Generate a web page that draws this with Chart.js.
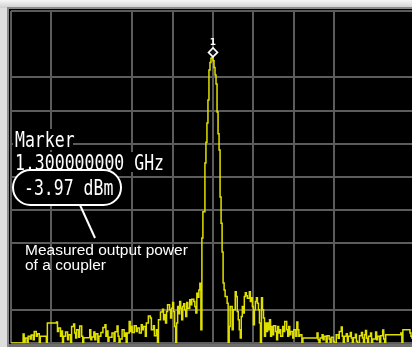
<!DOCTYPE html>
<html>
<head>
<meta charset="utf-8">
<script src="https://cdn.jsdelivr.net/npm/chart.js@4.4.1/dist/chart.umd.min.js"></script>
<style>
  html, body { margin: 0; padding: 0; overflow: hidden; background: #dcdcdc; }
  canvas { display: block; }
</style>
</head>
<body>
<canvas id="spectrum" width="416" height="347"></canvas>
<script>
// sweep: 401 trace points, reference level +10 dBm, 10 dB/div
const tracePoints = [
  0, 12, 13, 14, 16, 17, 19, 20, 22, 23, 25, 26, 28, 29, 35, 36, 45, 46, 47, 49, 50,
  51, 52, 54, 56, 57, 59, 60, 62, 63, 64, 65, 67, 68, 70, 71, 72, 78, 79, 80, 82, 83, 84, 86, 87, 89, 91, 93, 94, 95, 96, 97, 100,
  102, 103, 105, 106, 107, 108, 110, 112, 113, 114, 115, 117, 118, 119, 120, 122, 124, 125, 127, 129, 130, 131, 133, 134, 136, 138, 139, 141, 142, 144, 145, 146, 148, 150,
  151, 152, 153, 154, 155, 157, 158, 159, 160, 161, 162, 163, 164, 165, 166, 167, 168, 169, 170, 171, 172, 173, 174, 175, 177, 178, 179, 181, 182, 183, 184, 185, 186, 187, 188, 189,
  190, 192, 193, 194, 195, 196, 197, 198, 199, 200, 201, 202, 203, 204, 205, 206, 207, 208, 209, 210, 211, 212,
  214, 215, 216, 217, 219, 220, 222, 223, 224, 225, 226, 227, 228, 229, 230, 231, 232, 233, 234, 236, 237, 238, 239, 240, 241, 242, 243, 244, 245, 246, 247, 248, 249, 250,
  251, 252, 253, 254, 255, 256, 257, 258, 259, 260, 262, 263, 264, 265, 266, 267, 269, 270, 271, 273, 274, 275, 276, 277, 279, 280, 282, 283, 284, 285, 286, 288, 289,
  303, 304, 305, 306, 308, 309, 310, 312, 313, 315, 316, 317, 319, 320, 322, 324, 325, 327, 328, 329, 330, 332, 333, 334, 336, 337, 338, 339, 341, 342, 343, 345, 347, 348, 349,
  350, 351, 352, 353, 354, 356, 357, 358, 361, 362, 363, 365, 366, 368, 369, 370, 371, 386, 387, 388, 395, 396, 397, 400
];
const traceLevels = [
  -90, -90, -87.3, -90, -88.5, -90, -88, -88.8, -87.6, -89, -86.5, -88, -87.2, -90, -88, -90, -84, -83.7, -86.5, -85.5, -88,
  -86.4, -90, -88, -86.7, -89, -87.5, -90, -85, -84.3, -87, -88.5, -86, -88.3, -84.9, -88, -90, -88.4, -86, -89, -88.2, -86.7, -89, -87.2, -90, -88, -86.8, -85.3, -84.5, -88, -86.4, -89.5, -88.3,
  -87, -89.5, -86.6, -84.9, -88, -90, -88.8, -86, -88, -87, -90, -87, -83.5, -86.5, -85, -86.8, -84.8, -86.5, -85.5, -87, -84.5, -86, -85, -88, -84, -81.9, -82.5, -86, -84.8, -87.8, -86, -90, -83, -80.7,
  -79.8, -83, -81.5, -84, -80.5, -78.5, -80, -82.5, -79.5, -77.8, -80.5, -85, -90, -84, -79, -81.2, -77.5, -79.5, -83, -79, -78.2, -80, -82, -77.8, -79.5, -77, -78.5, -76.8, -77.5, -79, -81, -75, -76.2, -74, -72, -86,
  -58.4, -50.5, -35.8, -29.5, -23.7, -16.8, -7.8, -5.5, -4.2, -3.97, -5, -7, -9.3, -12, -20.4, -27, -31.9, -46, -53.9, -62.6, -71.9, -74,
  -76, -78, -90, -85, -79, -86, -80, -74.6, -76, -80.5, -83, -86, -88.5, -82, -79, -81, -76, -74.9, -75.8, -76.5, -74.6, -77.5, -76.4, -79, -84.5, -80, -77.5, -76.4, -78, -80, -84, -90, -76.4, -80,
  -82.5, -88, -84, -86.5, -84, -86, -83, -88, -85, -87.5, -84.8, -86.5, -89, -85, -87, -86, -88, -85, -86.5, -83.5, -86, -88, -85, -87.5, -86.5, -88.5, -86, -88, -83.7, -86, -88, -87.5, -90,
  -88.5, -87, -89, -90, -88.5, -87.5, -89, -88, -90, -87.8, -88.8, -90, -88.3, -89.5, -90, -87.5, -88.6, -86.5, -85.2, -88, -90, -88, -87.2, -89.5, -88, -86.8, -88.5, -90, -88.4, -87.4, -89.5, -90, -87.8, -86.8, -88.5,
  -90, -87.5, -86.2, -88.6, -90, -88, -87, -90, -88.8, -86.7, -89, -88, -90, -87.8, -86.1, -88.8, -90, -87.5, -87, -90, -86, -87, -88, -88.5
];

const refLevel = 10;
const bottomLevel = -90;
const centerGHz = 1.3;
const markerPoint = 200;
const markerLevel = -3.97;
const calloutText = ["Measured output power", "of a coupler"];

// the display leaves these graticule lines out
const skipXLines = [80, 360];
const skipYLines = [0, -70];

const gridColor = "#5c5c5c";

const framePlugin = {
  id: "frame",
  beforeDraw(chart) {
    const ctx = chart.ctx;
    const w = chart.width, h = chart.height;
    ctx.save();
    ctx.fillStyle = "#dedede";
    ctx.fillRect(0, 0, w, h);
    const g = ctx.createLinearGradient(0, 0, 0, 8);
    g.addColorStop(0, "#f6f6f6");
    g.addColorStop(1, "#cfcfcf");
    ctx.fillStyle = g;
    ctx.fillRect(0, 0, w, 8);
    ctx.fillStyle = "#8a8a8a";
    ctx.fillRect(7, 7, w, h);
    ctx.fillStyle = "#000";
    ctx.fillRect(9, 9, w, 335);
    ctx.fillStyle = "#6e6e6e";
    ctx.fillRect(9, 344, w, h - 344);
    ctx.restore();
  }
};

function monoText(ctx, str, x, y) {
  ctx.save();
  ctx.translate(x, y);
  ctx.scale(1, 1.25);
  ctx.fillText(str, 0, 0);
  ctx.restore();
}

const markerPlugin = {
  id: "markerReadout",
  afterDatasetsDraw(chart) {
    const ctx = chart.ctx;
    const xs = chart.scales.x, ys = chart.scales.y;
    const px = xs.getPixelForValue(markerPoint);
    const py = ys.getPixelForValue(markerLevel);
    ctx.save();

    // marker diamond and number above the peak
    ctx.strokeStyle = "#fff";
    ctx.fillStyle = "#111";
    ctx.lineWidth = 1.6;
    const cy = py - 5;
    ctx.beginPath();
    ctx.moveTo(px, cy - 4.5);
    ctx.lineTo(px + 4.5, cy);
    ctx.lineTo(px, cy + 4.5);
    ctx.lineTo(px - 4.5, cy);
    ctx.closePath();
    ctx.fill();
    ctx.stroke();
    ctx.fillStyle = "#fff";
    ctx.font = "bold 9px 'DejaVu Sans'";
    ctx.textAlign = "center";
    ctx.fillText("1", px, cy - 7);

    // readout block
    ctx.textAlign = "left";
    ctx.fillStyle = "#000";
    ctx.fillRect(13, 129, 60, 21);
    ctx.fillRect(13, 152, 156, 20);
    ctx.beginPath();
    ctx.roundRect(13, 170, 108, 35, 17.5);
    ctx.fill();
    ctx.strokeStyle = "#fff";
    ctx.lineWidth = 2;
    ctx.stroke();

    ctx.fillStyle = "#fff";
    ctx.font = "16.5px 'DejaVu Sans Mono'";
    monoText(ctx, "Marker", 15, 147);
    monoText(ctx, centerGHz.toFixed(9) + " GHz", 15, 170);
    monoText(ctx, markerLevel.toFixed(2) + " dBm", 24, 195);

    // callout
    ctx.beginPath();
    ctx.moveTo(80, 205);
    ctx.lineTo(95, 238);
    ctx.stroke();
    ctx.font = "15.5px 'Liberation Sans'";
    calloutText.forEach((t, i) => ctx.fillText(t, 25, 255 + i * 15));
    ctx.restore();
  }
};

const points = tracePoints.map((p, i) => ({ x: p, y: traceLevels[i] }));

new Chart(document.getElementById("spectrum"), {
  type: "line",
  data: {
    datasets: [{
      data: points,
      borderColor: "#e0e000",
      borderWidth: 1.5,
      pointRadius: 0,
      stepped: "after",
      tension: 0
    }]
  },
  options: {
    responsive: false,
    animation: false,
    events: [],
    layout: { padding: { left: 11, top: 11, right: 1, bottom: 4 } },
    plugins: { legend: { display: false }, tooltip: { enabled: false } },
    scales: {
      x: {
        type: "linear",
        min: 0,
        max: 400,
        ticks: { display: false, stepSize: 40 },
        border: { display: false },
        grid: {
          drawTicks: false,
          lineWidth: 2,
          color: c => skipXLines.includes(c.tick.value) ? "rgba(0,0,0,0)" : gridColor
        },
        afterFit: s => { s.height = 0; }
      },
      y: {
        min: bottomLevel,
        max: refLevel,
        ticks: { display: false, stepSize: 10 },
        border: { display: false },
        grid: {
          drawTicks: false,
          lineWidth: 2,
          color: c => skipYLines.includes(c.tick.value) ? "rgba(0,0,0,0)" : gridColor
        },
        afterFit: s => { s.width = 0; }
      }
    }
  },
  plugins: [framePlugin, markerPlugin]
});
</script>
</body>
</html>
